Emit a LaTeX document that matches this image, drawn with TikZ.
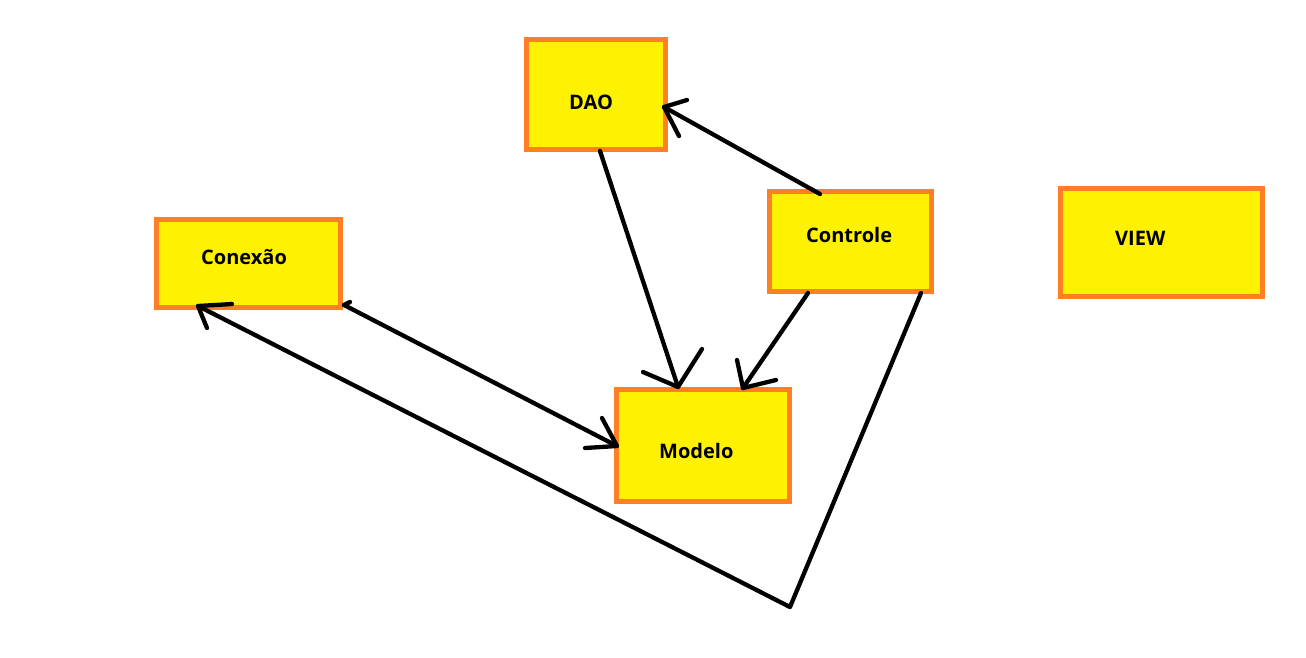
\documentclass[tikz,border=0pt]{standalone}
\usepackage{fontspec}
\setmainfont{Open Sans}
\definecolor{boxfill}{HTML}{FFF200}
\definecolor{boxline}{HTML}{FF7F27}
\begin{document}
\begin{tikzpicture}[x=1pt,y=-1pt,
  box/.style={draw=boxline,fill=boxfill,line width=5pt,rectangle,anchor=north west,inner sep=0pt,outer sep=0pt},
  lbl/.style={anchor=base west,inner sep=0pt,font=\fontsize{20}{24}\selectfont\bfseries,text=black},
  ln/.style={line width=4.3pt,black,line cap=round,line join=round}]
\useasboundingbox[fill=white] (0,0) rectangle (1306,657);
% boxes
\node[box,minimum width=139pt,minimum height=110pt] (dao) at (526.5,39) {};
\node[box,minimum width=184pt,minimum height=88.5pt] (con) at (156.5,219) {};
\node[box,minimum width=162.5pt,minimum height=99.5pt] (ctl) at (769,191.5) {};
\node[box,minimum width=201.5pt,minimum height=107.5pt] (view) at (1060.8,188.5) {};
\node[box,minimum width=173pt,minimum height=111.5pt] (mod) at (616,389.7) {};
% labels
\node[lbl] (daot) at (569,109) {DAO};
\node[lbl] (cont) at (201,264) {Conexão};
\node[lbl] (ctlt) at (806,242) {Controle};
\node[lbl] (viewt) at (1115,245) {VIEW};
\node[lbl] (modt) at (659,458) {Modelo};
% connector points
\coordinate (a1s) at (600,151);
\coordinate (a1t) at (678,387);
\coordinate (a2s) at (808,293);
\coordinate (a2t) at (743,388);
\coordinate (a3s) at (344,305);
\coordinate (a3t) at (617,446);
\coordinate (a4s) at (820,194);
\coordinate (a4t) at (664,107);
\coordinate (a5s) at (921,293);
\coordinate (a5c) at (790,607);
\coordinate (a5t) at (198,306);
% DAO -> Modelo
\draw[ln] (a1s) -- (a1t);
\draw[ln] (643,372) -- (a1t) -- (702,349);
% Controle -> Modelo
\draw[ln] (a2s) -- (a2t);
\draw[ln] (737,360) -- (a2t) -- (776,380);
% Conexao <-> Modelo
\draw[ln] (a3s) -- (a3t);
\draw[ln] (602,418) -- (a3t) -- (585,448);
\draw[ln] (a3s) -- (350,302);
% Controle -> DAO
\draw[ln] (a4s) -- (a4t);
\draw[ln] (687,100) -- (a4t) -- (679,136);
% Controle -> corner -> Conexao
\draw[ln] (a5s) -- (a5c) -- (a5t);
\draw[ln] (232,304) -- (a5t) -- (207,328);
\end{tikzpicture}
\end{document}
